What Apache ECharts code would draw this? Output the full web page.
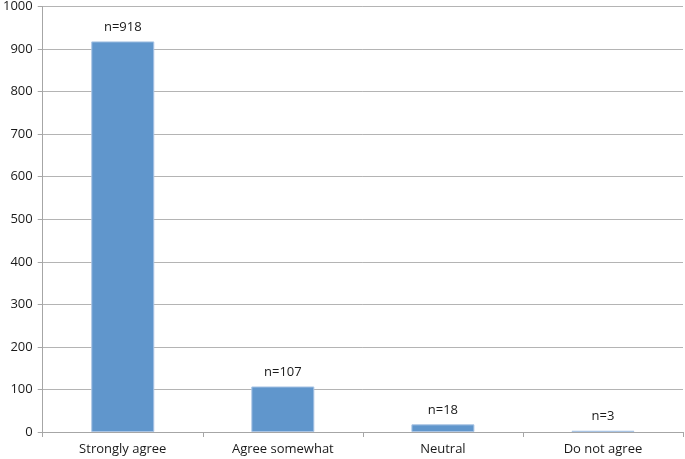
<!DOCTYPE html>
<html><head><meta charset="utf-8">
<script src="https://cdn.jsdelivr.net/npm/echarts@6/dist/echarts.min.js"></script>
<style>html,body{margin:0;padding:0;background:#fff}#c{width:685px;height:459px}</style>
</head><body><div id="c"></div>
<script>
const categories = ["Strongly agree", "Agree somewhat", "Neutral", "Do not agree"];
const values = [918, 107, 18, 3];
const labels = ["n=918", "n=107", "n=18", "n=3"];

const chart = echarts.init(document.getElementById('c'));
chart.setOption({
  animation: false,
  grid: {left: 42, right: 2, top: 5, bottom: 27},
  xAxis: {
    type: 'category', data: categories,
    axisLine: {lineStyle: {color: '#a6a6a6'}},
    axisTick: {show: true, length: 5, lineStyle: {color: '#a6a6a6'}},
    axisLabel: {color: '#1a1a1a', fontFamily: 'Open Sans', fontSize: 13, margin: 11}
  },
  yAxis: {
    type: 'value', min: 0, max: 1000, interval: 100,
    axisLine: {show: true, lineStyle: {color: '#a6a6a6'}},
    axisTick: {show: true, length: 5, lineStyle: {color: '#a6a6a6'}},
    splitLine: {lineStyle: {color: '#b4b4b4'}},
    axisLabel: {color: '#1a1a1a', fontFamily: 'Open Sans', fontSize: 13, margin: 10, formatter: v => String(v)}
  },
  series: [{
    type: 'bar', data: values, barWidth: 63,
    itemStyle: {color: '#6096cc', borderColor: '#a9c4e4', borderWidth: 1},
    label: {show: true, position: 'top', distance: 8, color: '#1a1a1a', fontFamily: 'Open Sans', fontSize: 13,
      formatter: p => labels[p.dataIndex]}
  }]
});
</script></body></html>
